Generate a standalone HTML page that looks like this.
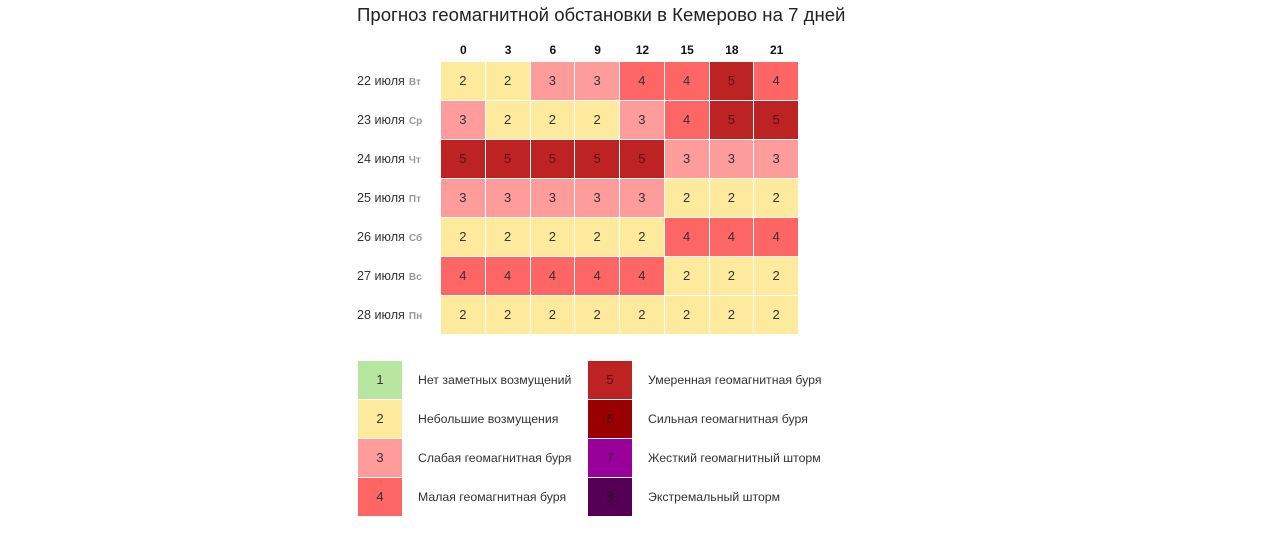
<!DOCTYPE html>
<html><head><meta charset="utf-8"><style>
body{margin:0;width:1280px;height:533px;background:#fff;font-family:"Liberation Sans","Noto Sans CJK SC",sans-serif;position:relative;overflow:hidden;color:#222}
.a{position:absolute}
.t{left:357px;top:4px;font-size:18.6px;color:#222}
.h{font-size:12px;font-weight:bold;width:44.75px;text-align:center;top:43px;color:#111}
.c{width:44.75px;height:39px;box-sizing:border-box;border-right:1px solid #fff;border-bottom:1px solid #fff;text-align:center;line-height:37px;font-size:13px;color:#333}
.d{left:357px;font-size:12.6px;color:#333;line-height:38px}
.d span{font-size:10px;color:#999;font-weight:bold;margin-left:4px}
.s{width:44px;height:39px;box-sizing:border-box;border-bottom:1px solid #fff;text-align:center;line-height:38px;font-size:13px;color:#333}
.l{font-size:12.3px;color:#333;line-height:39px}
.c2{background:#feea9c}.c3{background:#fe9c9c}.c4{background:#fe6666}.c5{background:#be2324;color:#5a1010}
</style></head><body>
<div class="a t">Прогноз геомагнитной обстановки в Кемерово на 7 дней</div>
<div id="g"></div>
<script>
var cols=[0,3,6,9,12,15,18,21];
var data=[[2,2,3,3,4,4,5,4],[3,2,2,2,3,4,5,5],[5,5,5,5,5,3,3,3],[3,3,3,3,3,2,2,2],[2,2,2,2,2,4,4,4],[4,4,4,4,4,2,2,2],[2,2,2,2,2,2,2,2]];
var days=[["22 июля","Вт"],["23 июля","Ср"],["24 июля","Чт"],["25 июля","Пт"],["26 июля","Сб"],["27 июля","Вс"],["28 июля","Пн"]];
var h="";
for(var i=0;i<8;i++)h+='<div class="a h" style="left:'+(441+i*44.75)+'px">'+cols[i]+'</div>';
for(var r=0;r<7;r++){
 h+='<div class="a d" style="top:'+(62+r*39)+'px">'+days[r][0]+'<span>'+days[r][1]+'</span></div>';
 for(var i=0;i<8;i++){var v=data[r][i];h+='<div class="a c c'+v+'" style="left:'+(441+i*44.75)+'px;top:'+(62+r*39)+'px">'+v+'</div>';}
}
var leg=[["#b6e6a0","Нет заметных возмущений","#333"],["#feea9c","Небольшие возмущения","#333"],["#fe9c9c","Слабая геомагнитная буря","#333"],["#fe6666","Малая геомагнитная буря","#333"],["#be2324","Умеренная геомагнитная буря","#5a1010"],["#990000","Сильная геомагнитная буря","#3a0000"],["#990099","Жесткий геомагнитный шторм","#3a003a"],["#550055","Экстремальный шторм","#220022"]];
for(var k=0;k<8;k++){var cx=k<4?358:588,tx=k<4?418:648,y=361+(k%4)*39;
 h+='<div class="a s" style="left:'+cx+'px;top:'+y+'px;background:'+leg[k][0]+';color:'+leg[k][2]+'">'+(k+1)+'</div>';
 h+='<div class="a l" style="left:'+tx+'px;top:'+y+'px">'+leg[k][1]+'</div>';}
document.getElementById("g").innerHTML=h;
</script>
</body></html>
